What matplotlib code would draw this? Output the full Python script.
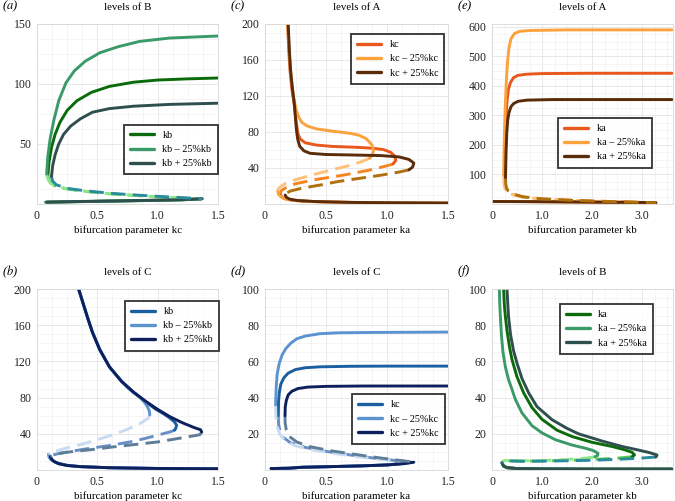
import matplotlib
matplotlib.use('Agg')
import matplotlib.pyplot as plt
from matplotlib.ticker import MultipleLocator

plt.rcParams['font.family'] = ['Liberation Serif', 'DejaVu Serif']
plt.rcParams['mathtext.fontset'] = 'stix'

# ---- panel (a): levels of B vs kc, varying kb ----
a_kb_up = [(0.09, 24), (0.10, 35), (0.12, 47), (0.15, 58), (0.19, 68), (0.25, 78), (0.33, 86),
           (0.45, 93), (0.6, 98), (0.8, 101.5), (1.0, 103.3), (1.25, 104.3), (1.5, 105)]
a_kbm_up = [(0.08, 25), (0.09, 40), (0.11, 55), (0.14, 70), (0.18, 86), (0.24, 101), (0.31, 111),
            (0.4, 119), (0.52, 126), (0.67, 131), (0.85, 135.5), (1.1, 138.3), (1.5, 140)]
a_kbp_up = [(0.12, 23), (0.13, 32), (0.15, 41), (0.18, 50), (0.22, 58), (0.28, 65), (0.36, 71),
            (0.46, 76.5), (0.6, 79.5), (0.8, 81.5), (1.1, 83), (1.5, 84)]
a_kb_dash = [(0.09, 24), (0.10, 20), (0.12, 17), (0.16, 14.5), (0.25, 12.5), (0.4, 10.5),
             (0.6, 8.5), (0.8, 7.2), (1.0, 6), (1.2, 5), (1.36, 4.2)]
a_kbm_dash = [(0.08, 25), (0.09, 21), (0.11, 17.5), (0.15, 15), (0.25, 12.7), (0.4, 10.6),
              (0.6, 8.6), (0.8, 7.2), (1.0, 6), (1.2, 5), (1.35, 4.2)]
a_kbp_dash = [(0.12, 23), (0.13, 19), (0.16, 16), (0.25, 13), (0.4, 11), (0.6, 9), (0.8, 7.6),
              (1.0, 6.4), (1.2, 5.3), (1.37, 4.4)]
a_kb_low = [(0.08, 1.5), (0.3, 1.9), (0.6, 2.4), (0.9, 2.9), (1.2, 3.5), (1.36, 4.2)]
a_kbm_low = [(0.07, 1.5), (0.3, 1.9), (0.6, 2.4), (0.9, 2.9), (1.2, 3.5), (1.35, 4.2)]
a_kbp_low = [(0.08, 1.6), (0.3, 2.0), (0.6, 2.5), (0.9, 3.0), (1.2, 3.6), (1.37, 4.4)]

# ---- panel (b): levels of C vs kc, varying kb ----
b_kb_up = [(0.345, 200), (0.38, 185), (0.42, 168), (0.46, 152), (0.52, 133), (0.6, 114),
           (0.7, 98), (0.8, 86), (0.9, 75.5), (0.98, 67.5), (1.05, 62), (1.1, 57.5), (1.14, 53),
           (1.157, 49.5), (1.15, 46), (1.14, 44)]
b_kbm_up = [(0.345, 200), (0.38, 185), (0.42, 168), (0.46, 152), (0.52, 133), (0.6, 114),
            (0.65, 106), (0.7, 98.5), (0.75, 91), (0.8, 85.5), (0.853, 80), (0.89, 75),
            (0.915, 70), (0.93, 65.5), (0.935, 61)]
b_kbp_up = [(0.345, 200), (0.38, 185), (0.42, 168), (0.46, 152), (0.52, 133), (0.6, 114),
            (0.7, 98), (0.8, 86), (0.9, 76), (1.0, 67), (1.1, 59), (1.2, 52.5), (1.3, 47),
            (1.355, 44.5), (1.365, 42)]
b_kb_dash = [(1.14, 44), (1.1, 42), (1.0, 38.5), (0.9, 35), (0.77, 31), (0.6, 27), (0.44, 24),
             (0.3, 21), (0.19, 18.5), (0.13, 16.5), (0.11, 15)]
b_kbm_dash = [(0.935, 61), (0.92, 57), (0.85, 51), (0.75, 45), (0.63, 39), (0.5, 33.5),
              (0.36, 28), (0.25, 24.5), (0.17, 21.5), (0.12, 19.5), (0.095, 17.5)]
b_kbp_dash = [(1.365, 42), (1.35, 39), (1.2, 35.5), (1.0, 31), (0.8, 28), (0.63, 25.5),
              (0.45, 22.5), (0.27, 20), (0.17, 18), (0.13, 16.5), (0.11, 15)]
b_kb_low = [(0.11, 15), (0.12, 12), (0.14, 9.5), (0.18, 7), (0.25, 5), (0.36, 3.7), (0.6, 2.5),
            (1.0, 1.7), (1.5, 1.3)]
b_kbm_low = [(0.095, 17.5), (0.1, 14), (0.12, 11), (0.16, 8), (0.25, 5.2), (0.36, 3.8),
             (0.6, 2.5), (1.0, 1.7), (1.5, 1.3)]
b_kbp_low = [(0.11, 15), (0.12, 12), (0.14, 9.5), (0.18, 7), (0.25, 5), (0.36, 3.7), (0.6, 2.5),
             (1.0, 1.7), (1.5, 1.3)]

# ---- panel (c): levels of A vs ka, varying kc ----
c_kc_up = [(0.186, 200), (0.195, 170), (0.205, 148), (0.22, 128), (0.24, 110), (0.255, 92),
           (0.27, 78), (0.29, 72), (0.33, 68), (0.42, 65.5), (0.55, 64), (0.75, 63), (0.88, 62),
           (0.97, 60.5), (1.03, 57.5), (1.065, 53), (1.072, 48.5), (1.05, 44.5)]
c_kcm_up = [(0.186, 200), (0.2, 165), (0.215, 140), (0.235, 118), (0.255, 105), (0.275, 97),
            (0.3, 91), (0.34, 87), (0.42, 83.5), (0.55, 81), (0.69, 78.7), (0.77, 76.5),
            (0.83, 72.5), (0.875, 66), (0.89, 60), (0.88, 54.5), (0.86, 51)]
c_kcp_up = [(0.19, 200), (0.2, 170), (0.21, 148), (0.225, 128), (0.24, 112), (0.25, 95),
            (0.258, 82), (0.268, 72), (0.285, 64), (0.32, 59), (0.37, 56.3), (0.5, 55),
            (0.7, 54.5), (0.95, 53.8), (1.1, 52.3), (1.18, 49.5), (1.22, 45.5), (1.21, 41),
            (1.18, 38)]
c_kc_dash = [(1.05, 44.5), (1.0, 42.5), (0.85, 37.5), (0.66, 32.5), (0.41, 27), (0.25, 22.5),
             (0.17, 18), (0.135, 15), (0.125, 12)]
c_kcm_dash = [(0.86, 51), (0.8, 47.5), (0.7, 43), (0.52, 37), (0.38, 32), (0.25, 27),
              (0.17, 23), (0.13, 19.5), (0.11, 17), (0.105, 15)]
c_kcp_dash = [(1.18, 38), (1.1, 35.5), (0.95, 32), (0.8, 29), (0.6, 25), (0.47, 21.5),
              (0.3, 17.5), (0.21, 14.5), (0.175, 12), (0.165, 10)]
c_kc_low = [(0.125, 12), (0.13, 9), (0.15, 6.5), (0.2, 4.6), (0.3, 3.2), (0.5, 2.2), (0.9, 1.4),
            (1.5, 1)]
c_kcm_low = [(0.105, 15), (0.11, 11), (0.13, 8), (0.17, 5.5), (0.25, 3.8), (0.4, 2.6),
             (0.7, 1.7), (1.1, 1.2), (1.5, 1)]
c_kcp_low = [(0.165, 10), (0.175, 7.5), (0.2, 5.5), (0.26, 4), (0.4, 2.8), (0.7, 1.8),
             (1.1, 1.3), (1.5, 1)]

# ---- panel (d): levels of C vs ka, varying kc ----
d_kc_up = [(0.109, 30), (0.111, 38), (0.118, 43), (0.13, 47.5), (0.155, 51), (0.19, 53.5),
           (0.25, 55.5), (0.33, 56.5), (0.45, 57), (0.7, 57.3), (1.0, 57.4), (1.5, 57.4)]
d_kcm_up = [(0.087, 36), (0.092, 46), (0.1, 53), (0.115, 58.5), (0.14, 63.5), (0.17, 67),
            (0.21, 70), (0.26, 72.5), (0.33, 74), (0.45, 75.3), (0.6, 75.8), (0.9, 76), (1.5, 76.2)]
d_kcp_up = [(0.164, 30), (0.166, 35), (0.175, 38.5), (0.19, 41.5), (0.22, 43.5), (0.27, 45),
            (0.35, 45.8), (0.5, 46.2), (0.8, 46.4), (1.5, 46.4)]
d_kc_dash = [(0.109, 30), (0.112, 25), (0.125, 21), (0.15, 18), (0.21, 15), (0.33, 12.5),
             (0.5, 10.3), (0.7, 8.3), (0.9, 6.5), (1.1, 5), (1.2, 4.3)]
d_kcm_dash = [(0.087, 36), (0.09, 29), (0.1, 24), (0.12, 20), (0.16, 16.5), (0.24, 13.5),
              (0.4, 11), (0.6, 8.8), (0.8, 7), (1.0, 5.5), (1.15, 4.3)]
d_kcp_dash = [(0.164, 30), (0.165, 26), (0.175, 22), (0.2, 18.5), (0.26, 15.5), (0.36, 13),
              (0.55, 10.5), (0.75, 8.5), (0.95, 6.6), (1.12, 5.2), (1.22, 4.3)]
d_kc_low = [(0.05, 0.8), (0.2, 1.0), (0.3, 1.5), (0.5, 1.8), (0.8, 2.3), (1.0, 2.8), (1.12, 3.5),
            (1.2, 4.3)]
d_kcm_low = [(0.05, 0.8), (0.2, 1.0), (0.3, 1.5), (0.5, 1.8), (0.8, 2.3), (1.0, 2.8),
             (1.1, 3.5), (1.15, 4.3)]
d_kcp_low = [(0.05, 0.8), (0.2, 1.0), (0.3, 1.5), (0.5, 1.8), (0.8, 2.3), (1.0, 2.8),
             (1.14, 3.5), (1.22, 4.3)]

# ---- panel (e): levels of A vs kb, varying ka ----
e_ka_up = [(0.25, 95), (0.255, 150), (0.265, 220), (0.28, 290), (0.3, 350), (0.33, 390),
           (0.37, 412), (0.43, 428), (0.52, 436), (0.7, 440), (1.0, 442), (2.0, 443), (3.6, 443)]
e_kam_up = [(0.233, 98), (0.24, 170), (0.25, 250), (0.265, 330), (0.285, 410), (0.31, 480),
            (0.34, 530), (0.38, 560), (0.45, 578), (0.55, 585), (0.75, 588), (1.5, 590),
            (3.6, 590)]
e_kap_up = [(0.27, 90), (0.28, 170), (0.295, 240), (0.315, 285), (0.34, 310), (0.38, 330),
            (0.43, 340), (0.52, 348), (0.7, 352), (1.2, 354), (3.6, 354)]
e_ka_dash = [(0.25, 95), (0.255, 70), (0.27, 55), (0.3, 44), (0.4, 33), (0.6, 24), (1.0, 17),
             (1.5, 13), (2.0, 10), (2.5, 7.5), (3.0, 5.5), (3.25, 4.5)]
e_kam_dash = [(0.233, 98), (0.24, 70), (0.255, 55), (0.29, 43), (0.4, 32), (0.6, 23.5),
              (1.0, 16.5), (1.5, 12.5), (2.0, 9.5), (2.5, 7.3), (3.0, 5.4), (3.25, 4.5)]
e_kap_dash = [(0.27, 90), (0.275, 68), (0.29, 55), (0.32, 45), (0.42, 34), (0.62, 24.5),
              (1.0, 17.5), (1.5, 13.3), (2.0, 10.2), (2.5, 7.7), (3.0, 5.6), (3.28, 4.5)]
e_ka_low = [(0.03, 8.5), (0.5, 8.2), (1.0, 7.8), (2.0, 6.5), (3.0, 5.2), (3.25, 4.5)]
e_kam_low = [(0.03, 8.5), (0.5, 8.2), (1.0, 7.8), (2.0, 6.5), (3.0, 5.2), (3.25, 4.5)]
e_kap_low = [(0.03, 8.5), (0.5, 8.2), (1.0, 7.8), (2.0, 6.5), (3.0, 5.2), (3.28, 4.5)]

# ---- panel (f): levels of B vs kb, varying ka ----
f_ka_up = [(0.233, 100), (0.245, 92), (0.267, 85), (0.3, 77), (0.35, 68), (0.4, 61), (0.5, 51.5),
           (0.633, 42.6), (0.8, 34.5), (1.0, 28), (1.3, 22), (1.6, 18.5), (2.0, 15.3), (2.4, 13),
           (2.65, 11.2), (2.8, 9.8), (2.85, 8.3), (2.8, 7.3)]
f_kam_up = [(0.147, 100), (0.155, 92), (0.167, 85), (0.19, 74), (0.22, 65), (0.267, 57),
            (0.33, 50), (0.4, 44.5), (0.467, 39), (0.6, 31.5), (0.8, 24.5), (1.0, 20.5),
            (1.27, 16.7), (1.6, 13.8), (1.87, 12), (2.03, 10.7), (2.12, 9.2), (2.11, 8),
            (2.06, 7.3)]
f_kap_up = [(0.3, 100), (0.315, 92), (0.33, 85), (0.37, 75), (0.43, 66), (0.5, 59), (0.6, 50.5),
            (0.733, 42.6), (0.9, 35), (1.2, 27.8), (1.5, 23), (1.73, 20), (2.2, 16), (2.6, 13),
            (2.9, 11.2), (3.15, 9.6), (3.3, 8.3), (3.28, 7.2)]
f_ka_dash = [(2.8, 7.3), (2.5, 6.5), (2.0, 5.8), (1.5, 5.3), (1.0, 5.0), (0.6, 4.9),
             (0.35, 5.1), (0.24, 4.9), (0.2, 4.0)]
f_kam_dash = [(2.06, 7.3), (1.9, 6.6), (1.5, 5.8), (1.0, 5.2), (0.6, 5.1), (0.35, 5.4),
              (0.24, 5.2), (0.2, 4.2)]
f_kap_dash = [(3.28, 7.2), (3.0, 6.6), (2.5, 5.9), (2.0, 5.4), (1.5, 5.1), (1.0, 4.9),
              (0.6, 4.8), (0.35, 5.0), (0.24, 4.8), (0.2, 3.9)]
f_ka_low = [(0.2, 4.0), (0.23, 2.2), (0.3, 1.3), (0.5, 0.8), (1.0, 0.6), (2.0, 0.5), (3.6, 0.5)]
f_kam_low = [(0.2, 4.2), (0.23, 2.2), (0.3, 1.3), (0.5, 0.8), (1.0, 0.6), (2.0, 0.5), (3.6, 0.5)]
f_kap_low = [(0.2, 3.9), (0.23, 2.2), (0.3, 1.3), (0.5, 0.8), (1.0, 0.6), (2.0, 0.5), (3.6, 0.5)]

# colours: (solid, dashed) for base, -25%, +25%
green = [('#0b6b0b', '#55cc44'), ('#3a9a68', '#8ee68a'), ('#2f4f4f', '#2a8c9c')]
orange = [('#e8571c', '#f5851f'), ('#fca23c', '#ffc07a'), ('#5a2c0a', '#b0700e')]
blue = [('#1a5fa0', '#6a8ec8'), ('#5b93d0', '#c8dbf0'), ('#0d1f5c', '#5e7d96')]

W, H = 675, 501
fig = plt.figure(figsize=(W / 100, H / 100), dpi=100)


def draw_panel(rect, curves, colors, names, title, tag, xlabel, xlim, ylim,
               xticks, xticklabels, yticks, leg_xy):
    ax = fig.add_axes(rect)
    for (up, dash, low), (c_s, c_d), nm in zip(curves, colors, names):
        ax.plot([p[0] for p in low], [p[1] for p in low], color=c_s, lw=2.1,
                solid_capstyle='round', solid_joinstyle='round')
        ax.plot([p[0] for p in dash], [p[1] for p in dash], color=c_d, lw=2.1,
                ls=(0, (5, 2.5)), dash_capstyle='butt')
        ax.plot([p[0] for p in up], [p[1] for p in up], color=c_s, lw=2.1, label=nm,
                solid_capstyle='round', solid_joinstyle='round')
    ax.set_xlim(*xlim)
    ax.set_ylim(*ylim)
    ax.set_xticks(xticks)
    ax.set_xticklabels(xticklabels)
    ax.set_yticks(yticks)
    ax.xaxis.set_minor_locator(MultipleLocator((xticks[1] - xticks[0]) / 4))
    ax.yaxis.set_minor_locator(MultipleLocator((yticks[1] - yticks[0]) / 4))
    ax.grid(which='major', color='#e4e4e4', lw=0.6)
    ax.grid(which='minor', color='#f2f2f2', lw=0.5)
    ax.set_axisbelow(True)
    ax.tick_params(which='both', length=0, labelsize=8.5, pad=4, colors='#222222')
    for s in ax.spines.values():
        s.set_color('#d8d8d8')
        s.set_linewidth(0.6)
    ax.set_xlabel(xlabel, fontsize=7.8, labelpad=3)
    ax.set_title(title, fontsize=7.8, pad=10)
    leg = ax.legend(loc='upper left', bbox_to_anchor=leg_xy, fontsize=7.3, frameon=True,
                    fancybox=False, edgecolor='black', handlelength=2.4, handletextpad=0.8,
                    labelspacing=0.5, borderpad=0.6, borderaxespad=0)
    leg.get_frame().set_linewidth(1.3)
    for ln in leg.get_lines():
        ln.set_linewidth(2.4)
    fig.text(rect[0] - 0.052, rect[1] + rect[3] + 0.035, tag, fontsize=9, style='italic',
             va='center', ha='left')
    return ax


col_x = [37 / W, 265 / W, 492 / W]
col_w = [181 / W, 183 / W, 181 / W]
row_y = [1 - 204 / H, 1 - 470 / H]
row_h = [180 / H, 181 / H]

lin_ticks = [0, 0.5, 1.0, 1.5]
lin_labels = ['0', '0.5', '1.0', '1.5']
kb_ticks = [0, 1.0, 2.0, 3.0]
kb_labels = ['0', '1.0', '2.0', '3.0']

draw_panel([col_x[0], row_y[0], col_w[0], row_h[0]],
           [(a_kb_up, a_kb_dash, a_kb_low), (a_kbm_up, a_kbm_dash, a_kbm_low),
            (a_kbp_up, a_kbp_dash, a_kbp_low)],
           green, ['kb', 'kb – 25%kb', 'kb + 25%kb'], 'levels of B', '($a$)',
           'bifurcation parameter kc', (0, 1.5), (0, 150), lin_ticks, lin_labels,
           [50, 100, 150], (0.48, 0.44))

draw_panel([col_x[0], row_y[1], col_w[0], row_h[1]],
           [(b_kb_up, b_kb_dash, b_kb_low), (b_kbm_up, b_kbm_dash, b_kbm_low),
            (b_kbp_up, b_kbp_dash, b_kbp_low)],
           blue, ['kb', 'kb – 25%kb', 'kb + 25%kb'], 'levels of C', '($b$)',
           'bifurcation parameter kc', (0, 1.5), (0, 200), lin_ticks, lin_labels,
           [40, 80, 120, 160, 200], (0.486, 0.934))

draw_panel([col_x[1], row_y[0], col_w[1], row_h[0]],
           [(c_kc_up, c_kc_dash, c_kc_low), (c_kcm_up, c_kcm_dash, c_kcm_low),
            (c_kcp_up, c_kcp_dash, c_kcp_low)],
           orange, ['kc', 'kc – 25%kc', 'kc + 25%kc'], 'levels of A', '($c$)',
           'bifurcation parameter ka', (0, 1.5), (0, 200), lin_ticks, lin_labels,
           [40, 80, 120, 160, 200], (0.47, 0.944))

draw_panel([col_x[1], row_y[1], col_w[1], row_h[1]],
           [(d_kc_up, d_kc_dash, d_kc_low), (d_kcm_up, d_kcm_dash, d_kcm_low),
            (d_kcp_up, d_kcp_dash, d_kcp_low)],
           blue, ['kc', 'kc – 25%kc', 'kc + 25%kc'], 'levels of C', '($d$)',
           'bifurcation parameter ka', (0, 1.5), (0, 100), lin_ticks, lin_labels,
           [20, 40, 60, 80, 100], (0.475, 0.419))

draw_panel([col_x[2], row_y[0], col_w[2], row_h[0]],
           [(e_ka_up, e_ka_dash, e_ka_low), (e_kam_up, e_kam_dash, e_kam_low),
            (e_kap_up, e_kap_dash, e_kap_low)],
           orange, ['ka', 'ka – 25%ka', 'ka + 25%ka'], 'levels of A', '($e$)',
           'bifurcation parameter kb', (0, 3.62), (0, 610), kb_ticks, kb_labels,
           [100, 200, 300, 400, 500, 600], (0.365, 0.478))

draw_panel([col_x[2], row_y[1], col_w[2], row_h[1]],
           [(f_ka_up, f_ka_dash, f_ka_low), (f_kam_up, f_kam_dash, f_kam_low),
            (f_kap_up, f_kap_dash, f_kap_low)],
           green, ['ka', 'ka – 25%ka', 'ka + 25%ka'], 'levels of B', '($f$)',
           'bifurcation parameter kb', (0, 3.62), (0, 100), kb_ticks, kb_labels,
           [20, 40, 60, 80, 100], (0.374, 0.917))

plt.savefig('out.png', dpi=100)
plt.close()
